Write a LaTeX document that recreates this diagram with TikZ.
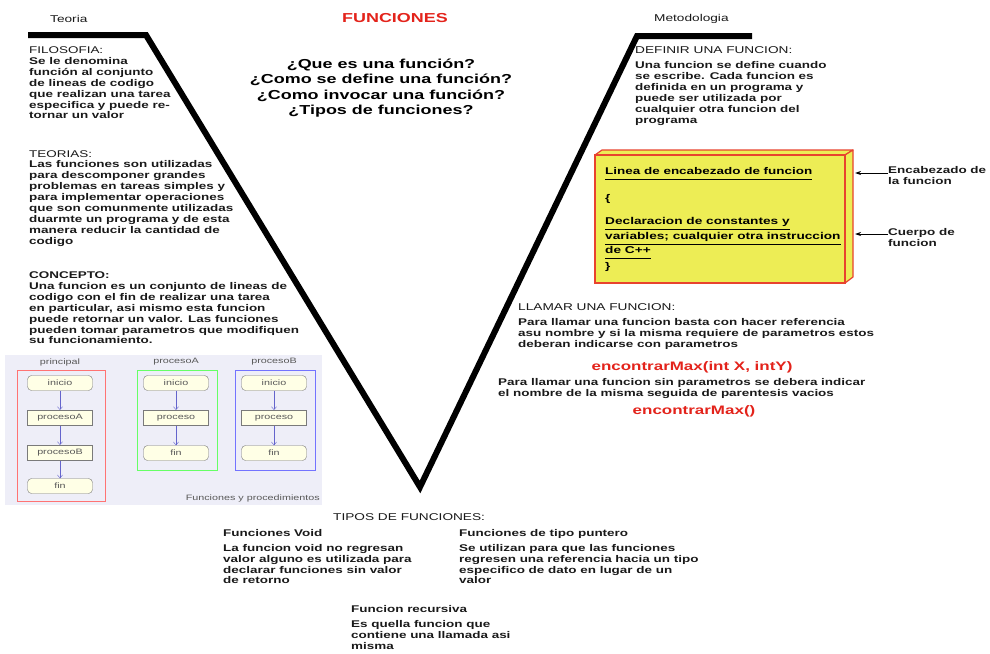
\documentclass[tikz,border=0pt]{standalone}
\usepackage{fontspec}
\setmainfont{Liberation Sans}[FakeStretch=1.38]
\usetikzlibrary{arrows.meta}

\definecolor{inkred}{HTML}{E3231B}
\definecolor{boxyellow}{HTML}{EDED55}
\definecolor{boxred}{HTML}{E8432E}
\definecolor{fcpanel}{HTML}{EEEEF8}
\definecolor{fcfill}{HTML}{FFFFE6}
\definecolor{fcline}{HTML}{7A7A7A}
\definecolor{fcarrowblue}{HTML}{6464CC}

\newcommand{\txtfont}{\fontsize{9.75}{10.9}\selectfont\bfseries}
\newcommand{\hdfont}{\fontsize{9.9}{10.9}\selectfont}
\newcommand{\fcfont}{\fontsize{7.8}{9}\selectfont}

\tikzset{
	txt/.style={anchor=north west, inner sep=0pt, align=left, font=\txtfont, text=black!90},
	hd/.style={txt, font=\hdfont},
	redcode/.style={anchor=north, inner sep=0pt, font=\fontsize{12.3}{14}\selectfont\bfseries, text=inkred},
	fcterm/.style={draw=fcline, fill=fcfill, rounded corners=4pt, minimum width=65pt, minimum height=15pt, inner sep=0pt, font=\fcfont, text=black!65},
	fcproc/.style={fcterm, rounded corners=0pt, line width=1pt},
	fctitle/.style={inner sep=0pt, font=\fcfont, text=black!65},
	fcarrow/.style={draw=fcarrowblue, -{Straight Barb[length=3pt,width=5pt]}},
	lblarrow/.style={-{Stealth[length=6pt,width=4pt]}, thick}
}

\begin{document}
\begin{tikzpicture}[x=1pt, y=-1pt]
	\useasboundingbox (0, 0) rectangle (990, 653);

	\node[hd, anchor=west] (teoria) at (50, 19) {Teoria};
	\node[hd, anchor=west] (metodo) at (654, 19) {Metodologia};
	\node[inner sep=0pt, font=\fontsize{13}{15}\selectfont\bfseries, text=inkred] (titulo) at (395, 18) {FUNCIONES};
	\node[anchor=north, inner sep=0pt, align=center, font=\fontsize{13}{15.2}\selectfont\bfseries] (preguntas) at (381, 59)
		{¿Que es una función?\\ ¿Como se define una función?\\ ¿Como invocar una función?\\ ¿Tipos de funciones?};

	\node[txt] (filosofia) at (29, 46.5) {{\mdseries FILOSOFIA:}\\ Se le denomina\\ función al conjunto\\ de lineas de codigo\\ que realizan una tarea\\ especifica y puede re-\\ tornar un valor};
	\node[txt] (teorias) at (29, 150) {{\mdseries TEORIAS:}\\ Las funciones son utilizadas\\ para descomponer grandes\\ problemas en tareas simples y\\ para implementar operaciones\\ que son comunmente utilizadas\\ duarmte un programa y de esta\\ manera reducir la cantidad de\\ codigo};
	\node[txt] (concepto) at (29, 271.5) {CONCEPTO:\\ Una funcion es un conjunto de lineas de\\ codigo con el fin de realizar una tarea\\ en particular, asi mismo esta funcion\\ puede retornar un valor. Las funciones\\ pueden tomar parametros que modifiquen\\ su funcionamiento.};

	\fill[fcpanel] (5, 355) rectangle (322, 505);
	\draw[fcline, draw=red!55!white] (17, 370) rectangle (105, 501);
	\draw[draw=green!60!white] (137, 370) rectangle (217, 470);
	\draw[draw=blue!55!white] (235, 370) rectangle (315, 470);
	\node[fctitle] (tprin) at (60, 362) {principal};
	\node[fctitle] (tproa) at (176, 362) {procesoA};
	\node[fctitle] (tprob) at (274, 362) {procesoB};
	\node[fcterm] (pini) at (60, 383) {inicio};
	\node[fcproc] (pa) at (60, 418) {procesoA};
	\node[fcproc] (pb) at (60, 453) {procesoB};
	\node[fcterm] (pfin) at (60, 486) {fin};
	\node[fcterm] (aini) at (176, 383) {inicio};
	\node[fcproc] (aproc) at (176, 418) {proceso};
	\node[fcterm] (afin) at (176, 453) {fin};
	\node[fcterm] (bini) at (274, 383) {inicio};
	\node[fcproc] (bproc) at (274, 418) {proceso};
	\node[fcterm] (bfin) at (274, 453) {fin};
	\draw[fcarrow] (pini) -- (pa);
	\draw[fcarrow] (pa) -- (pb);
	\draw[fcarrow] (pb) -- (pfin);
	\draw[fcarrow] (aini) -- (aproc);
	\draw[fcarrow] (aproc) -- (afin);
	\draw[fcarrow] (bini) -- (bproc);
	\draw[fcarrow] (bproc) -- (bfin);
	\node[fctitle, anchor=east] (fcnota) at (320, 498) {Funciones y procedimientos};

	\node[hd] (definir) at (635, 46.5) {DEFINIR UNA FUNCION:};
	\node[txt] (defbody) at (635, 61.5) {Una funcion se define cuando\\ se escribe. Cada funcion es\\ definida en un programa y\\ puede ser utilizada por\\ cualquier otra funcion del\\ programa};

	\filldraw[fill=boxyellow, draw=boxred, line width=1.2pt, line join=round] (595, 155) -- (602, 150) -- (853, 150) -- (845, 155) -- cycle;
	\filldraw[fill=boxyellow, draw=boxred, line width=1.2pt, line join=round] (845, 155) -- (853, 150) -- (853, 277) -- (845, 283) -- cycle;
	\filldraw[fill=boxyellow, draw=boxred, line width=1.2pt] (595, 155) rectangle (845, 283);
	\node[txt, text=black] (encab) at (605, 166.5) {\underline{\strut Linea de encabezado de funcion}};
	\node[txt, text=black] (llavea) at (605, 194.5) {\{};
	\node[txt, text=black, font=\fontsize{9.9}{11.5}\selectfont\bfseries] (cuerpo) at (605, 216.5) {\underline{\strut Declaracion de constantes y}\\ \underline{\strut variables; cualquier otra instruccion}\\ \underline{\strut de C++}};
	\node[txt, text=black] (llaveb) at (605, 262.5) {\}};

	\coordinate (hdrtip) at (855, 173);
	\coordinate (bodytip) at (855, 234);
	\node[txt] (lblenc) at (888, 166.5) {Encabezado de\\ la funcion};
	\node[txt] (lblcue) at (888, 228) {Cuerpo de\\ funcion};
	\draw[lblarrow] (lblenc.west |- hdrtip) -- (hdrtip);
	\draw[lblarrow] (lblcue.west |- bodytip) -- (bodytip);

	\node[hd] (llamar) at (518, 303) {LLAMAR UNA FUNCION:};
	\node[txt] (llabody) at (518, 318) {Para llamar una funcion basta con hacer referencia\\ asu nombre y si la misma requiere de parametros estos\\ deberan indicarse con parametros};
	\node[redcode] (maxpar) at (692, 361) {encontrarMax(int X, intY)};
	\node[txt] (sinpar) at (498, 378) {Para llamar una funcion sin parametros se debera indicar\\ el nombre de la misma seguida de parentesis vacios};
	\node[redcode] (maxvac) at (694, 405) {encontrarMax()};

	\node[hd] (tipos) at (333, 513) {TIPOS DE FUNCIONES:};
	\node[txt] (tvoid) at (223, 529) {Funciones Void};
	\node[txt] (tvoidb) at (223, 544) {La funcion void no regresan\\ valor alguno es utilizada para\\ declarar funciones sin valor\\ de retorno};
	\node[txt] (tpunt) at (459, 529) {Funciones de tipo puntero};
	\node[txt] (tpuntb) at (459, 544) {Se utilizan para que las funciones\\ regresen una referencia hacia un tipo\\ especifico de dato en lugar de un\\ valor};
	\node[txt] (trec) at (351, 605) {Funcion recursiva};
	\node[txt] (trecb) at (351, 620) {Es quella funcion que\\ contiene una llamada asi\\ misma};

	\coordinate (vl) at (28, 35);
	\coordinate (vlc) at (146, 35);
	\coordinate (vb) at (420, 487);
	\coordinate (vrc) at (637, 36);
	\coordinate (vr) at (752, 36);
	\draw[line width=6pt, line join=miter] (vl) -- (vlc) -- (vb) -- (vrc) -- (vr);
\end{tikzpicture}
\end{document}
